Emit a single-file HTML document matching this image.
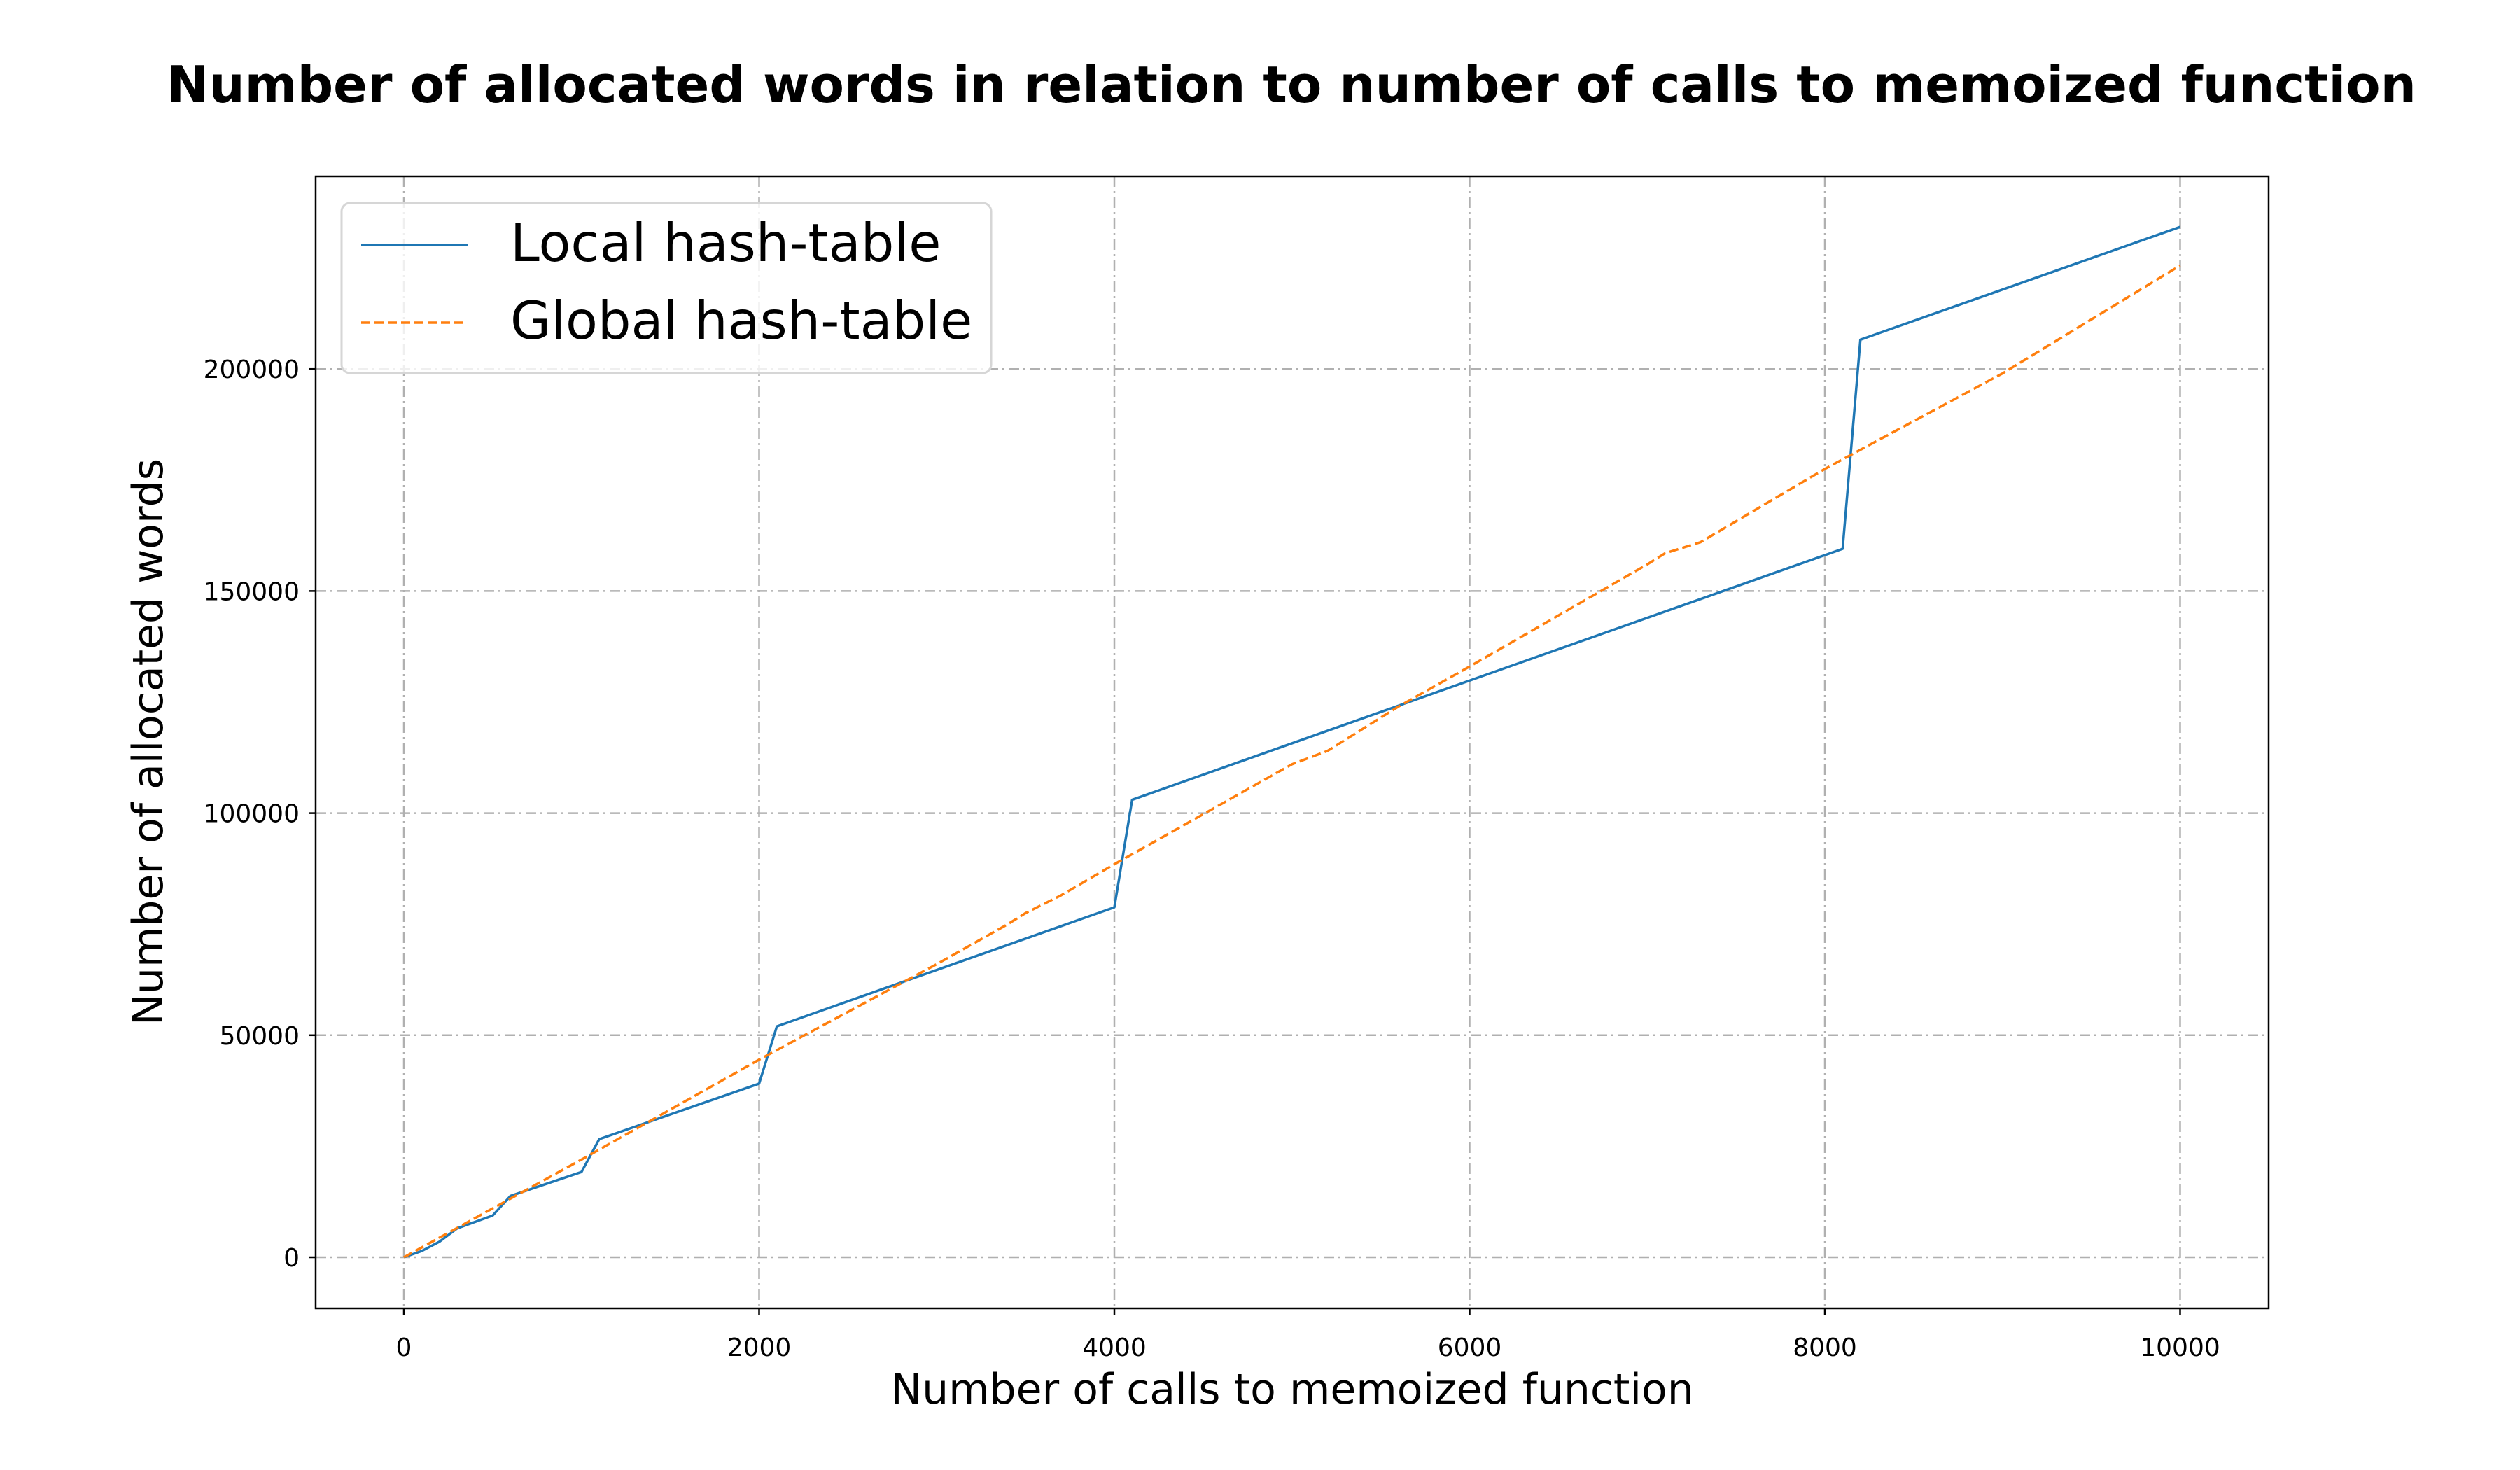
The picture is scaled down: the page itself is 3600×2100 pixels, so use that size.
<!DOCTYPE html>
<html><head><meta charset="utf-8">
<style>
html,body{margin:0;padding:0;background:#fff;}
svg{display:block;font-family:"DejaVu Sans","Liberation Sans",sans-serif;}
</style></head>
<body>
<svg id="chart" width="3600" height="2100" viewBox="0 0 3600 2100">
<rect x="0" y="0" width="3600" height="2100" fill="#fff"/>
<text x="1845" y="146" text-anchor="middle" font-size="72" font-weight="bold">Number of allocated words in relation to number of calls to memoized function</text>
<g id="grid"></g>
<g id="series"></g>
<rect x="451" y="252" width="2790" height="1617" fill="none" stroke="#000" stroke-width="2.5"/>
<g id="ticks"></g>
<text x="1846" y="2005" text-anchor="middle" font-size="60">Number of calls to memoized function</text>
<text transform="translate(232,1060) rotate(-90)" text-anchor="middle" font-size="60">Number of allocated words</text>
<g>
<rect x="488" y="290" width="928" height="243" rx="12" fill="#fff" fill-opacity="0.8" stroke="#d6d6d6" stroke-width="3"/>
<line x1="516" y1="350" x2="669" y2="350" stroke="#1f77b4" stroke-width="3.5"/>
<text x="729" y="373" font-size="75">Local hash-table</text>
<line x1="516" y1="461" x2="669" y2="461" stroke="#ff7f0e" stroke-width="3.5" stroke-dasharray="13,6"/>
<text x="729" y="484" font-size="75">Global hash-table</text>
</g>
</svg>
<script>
const xTicks = [0, 2000, 4000, 6000, 8000, 10000];
const yTicks = [0, 50000, 100000, 150000, 200000];
const localX = [0, 100, 200, 300, 500, 600, 1000, 1100, 2000, 2100, 4000, 4100, 8100, 8200, 10000];
const localY = [0, 1400, 3500, 6500, 9400, 13800, 19200, 26600, 39100, 52000, 78800, 103000, 159500, 206600, 232000];
const globalX = [0, 500, 1000, 2000, 3000, 3400, 3500, 3700, 4000, 5000, 5200, 5600, 6000, 7000, 7100, 7300, 8000, 9000, 10000];
const globalY = [0, 11000, 22000, 44500, 66000, 75000, 77500, 81500, 88500, 111000, 114000, 124000, 133000, 156000, 158500, 161000, 177500, 199000, 223300];

const NS = 'http://www.w3.org/2000/svg';
const X0 = 577, XPER = 507.5 / 2000;
const Y0 = 1796, YPER = 317.2 / 50000;
function sx(v) { return X0 + v * XPER; }
function sy(v) { return Y0 - v * YPER; }
function mk(tag, attrs, parent) {
  const e = document.createElementNS(NS, tag);
  for (const k in attrs) e.setAttribute(k, attrs[k]);
  parent.appendChild(e);
  return e;
}
const grid = document.getElementById('grid');
const ticks = document.getElementById('ticks');
const series = document.getElementById('series');

xTicks.forEach(function (t) {
  const g = mk('line', {x1: sx(t), x2: sx(t), y1: 252, y2: 1869, stroke: '#b0b0b0', 'stroke-width': 2.5, 'stroke-dasharray': '15,6,3,6'}, grid);
  
  
  const tm = mk('line', {x1: sx(t), x2: sx(t), y1: 1869, y2: 1878, stroke: '#000', 'stroke-width': 2.5}, ticks);
  
  
  const tl = mk('text', {x: sx(t), y: 1937, 'text-anchor': 'middle', 'font-size': 36}, ticks);
  tl.textContent = String(t);
  
  
});
yTicks.forEach(function (t) {
  const g = mk('line', {x1: 451, x2: 3241, y1: sy(t), y2: sy(t), stroke: '#b0b0b0', 'stroke-width': 2.5, 'stroke-dasharray': '15,6,3,6'}, grid);
  
  
  const tm = mk('line', {x1: 442, x2: 451, y1: sy(t), y2: sy(t), stroke: '#000', 'stroke-width': 2.5}, ticks);
  
  
  const tl = mk('text', {x: 428, y: sy(t) + 13, 'text-anchor': 'end', 'font-size': 36}, ticks);
  tl.textContent = String(t);
  
  
});
function pts(xs, ys) { return xs.map(function (x, i) { return sx(x) + ',' + sy(ys[i]); }).join(' '); }
const lp = mk('polyline', {points: pts(localX, localY), fill: 'none', stroke: '#1f77b4', 'stroke-width': 3.5, 'stroke-linejoin': 'round'}, series);


const gp = mk('polyline', {points: pts(globalX, globalY), fill: 'none', stroke: '#ff7f0e', 'stroke-width': 3.5, 'stroke-dasharray': '13,6'}, series);


</script>
</body></html>
